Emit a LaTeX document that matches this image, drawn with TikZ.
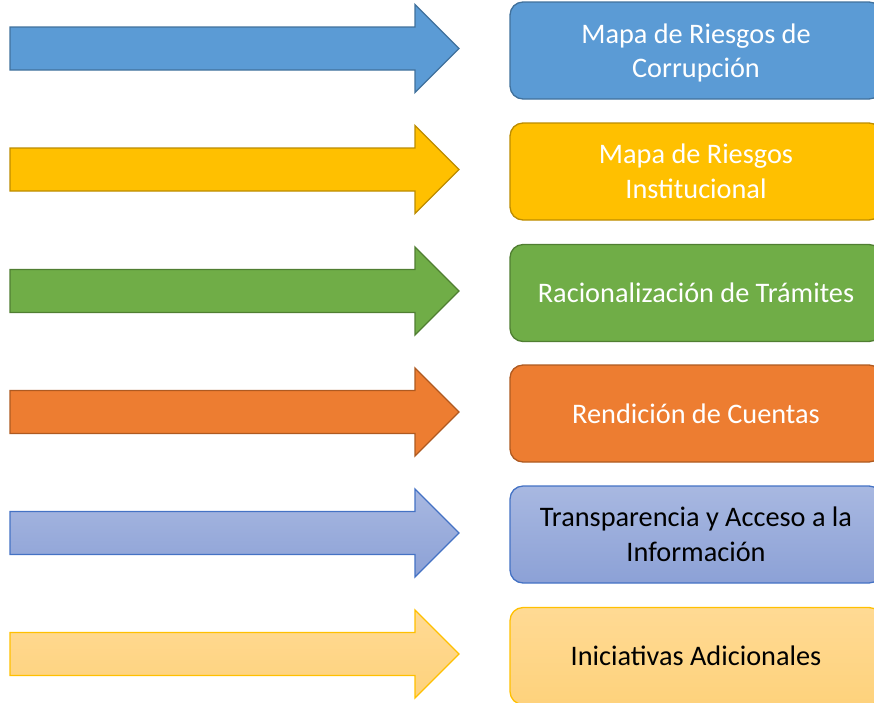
\documentclass[tikz,border=0pt]{standalone}
\usepackage{fontspec}
\setmainfont{Carlito}
\definecolor{bfill}{HTML}{5B9BD5}\definecolor{bline}{HTML}{41719C}
\definecolor{yfill}{HTML}{FFC000}\definecolor{yline}{HTML}{BC8C00}
\definecolor{gfill}{HTML}{70AD47}\definecolor{gline}{HTML}{507E32}
\definecolor{ofill}{HTML}{ED7D31}\definecolor{oline}{HTML}{AE5A21}
\definecolor{ptop}{HTML}{A8B8E1}\definecolor{pbot}{HTML}{8CA1D6}\definecolor{pline}{HTML}{4472C4}
\definecolor{ltop}{HTML}{FFDA94}\definecolor{lbot}{HTML}{FED27C}\definecolor{lline}{HTML}{FFC000}
\tikzset{
  fatarrow/.style={line width=1.3pt, line join=miter},
  card/.style={rounded corners=13pt, line width=1.3pt, minimum width=372pt, minimum height=97pt,
    align=center, font=\fontsize{28.3}{34.5}\selectfont, inner sep=0pt},
}
\newcommand{\fatarrowat}[2]{%
  \path[fatarrow,#2] (10,#1-21.5) -- (415,#1-21.5) -- (415,#1-44) -- (459,#1) -- (415,#1+44) -- (415,#1+21.5) -- (10,#1+21.5) -- cycle;}
\begin{document}
\begin{tikzpicture}[x=1pt,y=-1pt]
\useasboundingbox (0,0) rectangle (874,702);
\clip (0,0) rectangle (874,702);
\fatarrowat{48.5}{fill=bfill, draw=bline}
\fatarrowat{169.5}{fill=yfill, draw=yline}
\fatarrowat{291}{fill=gfill, draw=gline}
\fatarrowat{412}{fill=ofill, draw=oline}
\fatarrowat{533}{top color=ptop, bottom color=pbot, draw=pline}
\fatarrowat{654}{top color=ltop, bottom color=lbot, draw=lline}
\node[card, fill=bfill, draw=bline, text=white] (b1) at (696,50.5) {Mapa de Riesgos de\\\smash{Corrupción}};
\node[card, fill=yfill, draw=yline, text=white] (b2) at (696,171.5) {Mapa de Riesgos\\Institucional};
\node[card, fill=gfill, draw=gline, text=white] (b3) at (696,293) {Racionalización de Trámites};
\node[card, fill=ofill, draw=oline, text=white] (b4) at (696,413.5) {Rendición de Cuentas};
\node[card, top color=ptop, bottom color=pbot, draw=pline, text=black] (b5) at (696,534.5) {Transparencia y Acceso a la\\Información};
\node[card, top color=ltop, bottom color=lbot, draw=lline, text=black] (b6) at (696,656) {Iniciativas Adicionales};
\end{tikzpicture}
\end{document}
